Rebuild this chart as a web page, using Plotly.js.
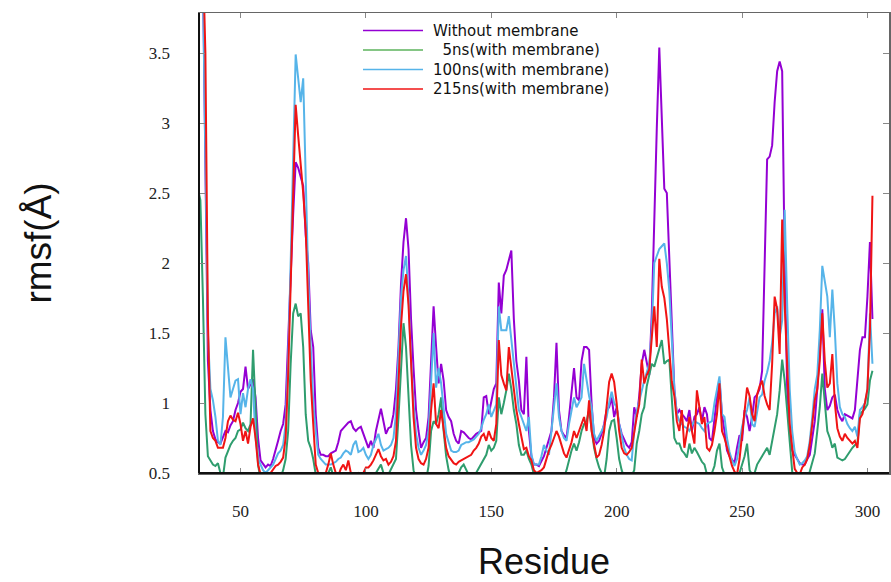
<!DOCTYPE html>
<html>
<head>
<meta charset="utf-8">
<script src="https://cdn.plot.ly/plotly-3.0.1.min.js"></script>
<style>
  html, body { margin: 0; padding: 0; background: #ffffff; }
  #chart { width: 891px; height: 582px; }
</style>
</head>
<body>
<div id="chart"></div>
<script>
// ---------------- data (rmsf in Å, one value per residue) ----------------
const firstResidue = 33;

const seriesNames = [
  'Without membrane',
  '\u20075ns(with membrane)',
  '100ns(with membrane)',
  '215ns(with membrane)'
];

const withoutMembrane = [
  4.3, 4.3, 4.1, 2.6, 1.3, 0.95, 0.8, 0.74, 0.72, 0.71,
  0.76, 0.8, 0.79, 0.84, 0.87, 0.95, 1.0, 1.08, 1.1, 1.26,
  1.1, 1.14, 1.17, 1.04, 0.75, 0.59, 0.56, 0.54, 0.56, 0.55,
  0.6, 0.66, 0.73, 0.8, 0.85, 0.99, 1.4, 1.9, 2.35, 2.72,
  2.68, 2.62, 2.55, 2.2, 2.0, 1.52, 1.4, 0.92, 0.68, 0.63,
  0.63, 0.62, 0.62, 0.64, 0.65, 0.66, 0.72, 0.8, 0.82, 0.84,
  0.86, 0.87, 0.82, 0.8, 0.82, 0.83, 0.78, 0.73, 0.68, 0.73,
  0.68, 0.8, 0.87, 0.96, 0.87, 0.78, 0.82, 0.83, 0.92, 1.1,
  1.4, 1.85, 2.15, 2.32, 2.1, 1.6, 1.25, 0.95, 0.8, 0.68,
  0.72, 0.75, 0.9, 1.35, 1.69, 1.4, 1.14, 1.28, 1.16, 0.95,
  0.9, 0.87, 0.78, 0.73, 0.71, 0.8, 0.79, 0.77, 0.75, 0.74,
  0.76, 0.78, 0.79, 0.8, 1.04, 1.05, 0.92, 1.0, 1.1, 1.14,
  1.86, 1.64, 1.91, 1.95, 2.02, 2.09, 1.6, 1.3, 1.16, 0.95,
  0.92, 1.33, 0.8, 0.62, 0.56, 0.56, 0.55, 0.58, 0.62, 0.68,
  0.75, 0.8, 1.04, 1.43, 0.95, 0.8, 0.77, 0.75, 0.9, 1.1,
  1.25, 1.04, 1.02, 1.3, 1.4, 1.4, 1.38, 1.0, 0.75, 0.71,
  0.73, 0.78, 0.85, 0.95, 0.97, 1.04, 0.9, 0.97, 0.85, 0.78,
  0.74, 0.7, 0.68, 0.72, 0.97, 0.9, 1.05, 1.28, 1.38, 1.3,
  1.2, 1.64, 2.36, 2.96, 3.54, 3.08, 2.53, 2.5, 2.0, 1.64,
  1.1, 0.92, 0.95, 0.92, 0.9, 0.87, 0.95, 0.8, 0.9, 0.92,
  0.97, 0.87, 0.97, 0.92, 0.75, 0.73, 0.9, 1.04, 1.16, 0.92,
  0.8, 0.66, 0.62, 0.59, 0.57, 0.68, 0.77, 0.73, 0.95, 0.9,
  0.8, 0.9, 1.04, 1.06, 1.1, 1.23, 2.0, 2.74, 2.76, 2.84,
  3.15, 3.37, 3.44, 3.37, 2.0, 1.1, 0.8, 0.66, 0.63, 0.6,
  0.57, 0.56, 0.56, 0.6, 0.63, 0.75, 0.87, 1.1, 1.4, 1.67,
  1.1, 0.95, 0.98, 1.04, 1.06, 0.95, 0.9, 0.87, 0.92, 0.91,
  0.9, 0.89, 0.95, 1.2, 1.38, 1.47, 1.47, 1.76, 2.15, 1.6
];

const with5ns = [
  2.53, 2.45, 1.76, 0.92, 0.62, 0.59, 0.56, 0.55, 0.57, 0.5,
  0.47, 0.61, 0.66, 0.7, 0.73, 0.75, 0.8, 0.81, 0.86, 0.82,
  0.8, 0.85, 1.38, 0.9, 0.56, 0.45, 0.42, 0.4, 0.4, 0.41,
  0.4, 0.42, 0.44, 0.47, 0.52, 0.6, 0.8, 1.28, 1.64, 1.71,
  1.62, 1.64, 1.4, 0.92, 0.73, 0.68, 0.6, 0.49, 0.44, 0.42,
  0.43, 0.46, 0.5, 0.54, 0.48, 0.44, 0.42, 0.45, 0.5, 0.47,
  0.44, 0.42, 0.41, 0.43, 0.45, 0.42, 0.4, 0.41, 0.42, 0.44,
  0.47, 0.5, 0.52, 0.56, 0.5, 0.47, 0.49, 0.53, 0.56, 0.6,
  0.9, 1.28, 1.57, 1.4, 1.0, 0.7, 0.52, 0.45, 0.42, 0.41,
  0.42, 0.45, 0.55, 0.8, 0.87, 0.85, 0.92, 1.04, 0.8, 0.62,
  0.52, 0.47, 0.45, 0.46, 0.5, 0.54, 0.56, 0.52, 0.48, 0.45,
  0.47, 0.5, 0.53, 0.56, 0.6, 0.63, 0.7, 0.66, 0.68, 0.73,
  1.04, 0.92, 1.0, 1.09, 1.21, 1.1, 0.95, 0.85, 0.7, 0.63,
  0.63, 0.66, 0.6, 0.56, 0.49, 0.45, 0.43, 0.42, 0.41, 0.42,
  0.43, 0.42, 0.44, 0.43, 0.42, 0.44, 0.47, 0.52, 0.6, 0.66,
  0.71, 0.66, 0.72, 0.8, 0.85, 0.87, 0.95, 0.8, 0.68, 0.6,
  0.54, 0.5, 0.47, 0.6, 0.8, 0.87, 0.88, 0.75, 0.6, 0.52,
  0.47, 0.44, 0.45, 0.48, 0.52, 0.71, 0.8, 0.92, 0.97, 1.12,
  1.2, 1.28, 1.26, 1.33, 1.38, 1.45, 1.28, 1.3, 1.31, 1.04,
  0.75, 0.71, 0.71, 0.66, 0.64, 0.61, 0.71, 0.64, 0.68, 0.65,
  0.61, 0.58, 0.56, 0.49, 0.47, 0.5, 0.55, 0.66, 0.71, 0.54,
  0.49, 0.45, 0.43, 0.42, 0.43, 0.45, 0.5, 0.56, 0.62, 0.71,
  0.52, 0.49, 0.5, 0.56, 0.59, 0.61, 0.65, 0.68, 0.63, 0.73,
  0.8, 0.92, 1.09, 1.31, 1.16, 0.92, 0.68, 0.51, 0.45, 0.42,
  0.41, 0.4, 0.41, 0.44, 0.51, 0.57, 0.64, 0.8, 0.97, 1.21,
  0.99, 0.8, 0.75, 0.68, 0.71, 0.61, 0.6, 0.59, 0.6, 0.63,
  0.66, 0.68, 0.7, 0.71, 0.92, 0.94, 0.96, 0.99, 1.16, 1.23
];

const with100ns = [
  4.3, 4.3, 4.0, 2.6, 1.5, 1.1, 1.02, 0.9, 0.73, 0.7,
  0.9, 1.47, 1.28, 1.04, 1.1, 1.16, 1.17, 0.92, 1.07, 0.97,
  1.1, 1.17, 1.1, 0.75, 0.6, 0.56, 0.52, 0.5, 0.52, 0.54,
  0.56, 0.6, 0.64, 0.66, 0.7, 0.85, 1.3, 2.0, 2.72, 3.49,
  3.32, 3.15, 3.32, 2.6, 1.9, 1.4, 1.0, 0.8, 0.63, 0.6,
  0.58, 0.56, 0.56, 0.56, 0.57, 0.58, 0.6, 0.61, 0.64, 0.66,
  0.65, 0.63, 0.7, 0.73, 0.65, 0.66, 0.68, 0.63, 0.6, 0.63,
  0.7, 0.74, 0.78, 0.7, 0.66, 0.67, 0.68, 0.7, 0.75, 0.92,
  1.4, 1.75, 1.95, 2.05, 1.75, 1.3, 1.0, 0.78, 0.68, 0.63,
  0.66, 0.7, 0.8, 1.2, 1.5, 1.11, 1.25, 1.14, 0.95, 0.78,
  0.72, 0.66, 0.65, 0.65, 0.66, 0.7, 0.71, 0.72, 0.72, 0.73,
  0.74, 0.76, 0.78, 0.82, 0.88, 0.92, 0.99, 0.9, 0.94, 0.99,
  1.69, 1.52, 1.52, 1.52, 1.62, 1.45, 1.3, 1.1, 0.95, 0.9,
  0.85, 0.8, 0.9, 0.63, 0.56, 0.56, 0.56, 0.62, 0.7, 0.66,
  0.63, 0.8, 0.99, 1.14, 0.9, 0.8, 0.75, 0.73, 0.85, 0.95,
  1.04, 0.97, 1.0, 1.04, 1.28, 1.16, 1.05, 0.97, 0.78, 0.73,
  0.76, 0.8, 0.84, 0.9, 1.0, 1.08, 1.0, 0.97, 0.85, 0.76,
  0.68, 0.63, 0.6, 0.59, 0.8, 0.94, 1.02, 1.1, 1.16, 1.22,
  1.28, 1.52, 2.0, 2.05, 2.1, 2.12, 2.14, 2.0, 1.8, 1.45,
  1.1, 0.92, 0.87, 0.85, 0.83, 0.82, 0.8, 0.84, 0.87, 0.86,
  0.85, 0.82, 0.8, 0.85, 0.86, 0.87, 1.0, 1.1, 1.19, 0.92,
  0.9, 0.75, 0.65, 0.59, 0.55, 0.6, 0.72, 0.83, 0.9, 0.95,
  1.04, 0.85, 0.83, 0.95, 1.04, 1.06, 1.16, 1.22, 1.3, 1.43,
  1.64, 1.69, 1.47, 1.59, 2.38, 1.7, 1.1, 0.8, 0.65, 0.6,
  0.56, 0.57, 0.59, 0.62, 0.73, 0.9, 1.1, 1.2, 1.52, 1.98,
  1.86, 1.76, 1.47, 1.81, 1.52, 1.14, 0.97, 0.92, 0.9, 0.85,
  0.82, 0.8, 0.83, 0.76, 0.95, 0.97, 1.0, 1.09, 1.64, 1.28
];

const with215ns = [
  4.3, 4.3, 4.2, 3.5, 1.6, 0.8, 0.75, 0.73, 0.68, 0.68,
  0.68, 0.75, 0.87, 0.91, 0.88, 0.87, 0.93, 0.85, 0.73, 0.8,
  0.71, 0.83, 0.89, 0.75, 0.56, 0.49, 0.46, 0.45, 0.46, 0.5,
  0.53, 0.55, 0.56, 0.58, 0.61, 0.75, 1.2, 1.8, 2.4, 3.13,
  2.91, 2.72, 2.5, 2.24, 1.64, 1.16, 0.85, 0.56, 0.5, 0.48,
  0.47, 0.5, 0.56, 0.64, 0.56, 0.5, 0.48, 0.53, 0.56, 0.52,
  0.59, 0.5, 0.47, 0.48, 0.5, 0.49, 0.5, 0.54, 0.54, 0.56,
  0.59, 0.63, 0.67, 0.62, 0.59, 0.6, 0.56, 0.58, 0.62, 0.73,
  1.1, 1.55, 1.8, 1.92, 1.7, 1.28, 0.9, 0.68, 0.6, 0.57,
  0.56, 0.6, 0.68, 0.95, 1.14, 0.85, 0.82, 0.95, 0.8, 0.68,
  0.62, 0.59, 0.57, 0.56, 0.58, 0.59, 0.6, 0.61, 0.62, 0.63,
  0.66, 0.68, 0.71, 0.76, 0.78, 0.73, 0.8, 0.75, 0.73, 0.85,
  1.45, 1.2, 1.14, 1.09, 1.4, 1.25, 1.1, 0.95, 0.85, 0.75,
  0.67, 0.68, 0.62, 0.59, 0.52, 0.5, 0.51, 0.52, 0.54, 0.6,
  0.66, 0.7, 0.75, 0.8, 0.76, 0.7, 0.64, 0.61, 0.66, 0.72,
  0.8, 0.75, 0.8, 0.85, 0.9, 0.8, 1.02, 0.8, 0.7, 0.61,
  0.63, 0.7, 0.8, 1.0, 1.15, 1.21, 1.15, 1.0, 0.8, 0.68,
  0.64, 0.63, 0.65, 0.68, 0.8, 0.9, 0.99, 1.31, 1.14, 1.2,
  1.24, 1.5, 1.69, 1.4, 2.03, 1.83, 1.75, 1.6, 1.4, 1.15,
  1.05, 0.87, 0.8, 0.95, 0.68, 0.8, 0.9, 0.8, 0.71, 1.09,
  0.97, 0.85, 0.9, 0.68, 0.66, 0.7, 0.8, 0.92, 1.14, 0.8,
  0.75, 0.68, 0.6, 0.55, 0.51, 0.49, 0.6, 0.78, 0.95, 1.11,
  1.05, 0.92, 0.87, 1.06, 1.12, 1.16, 1.05, 0.99, 0.95, 1.28,
  1.76, 1.67, 1.35, 2.31, 1.7, 1.2, 0.85, 0.68, 0.53, 0.5,
  0.49, 0.54, 0.56, 0.6, 0.7, 0.85, 1.02, 1.1, 1.3, 1.64,
  1.3, 1.11, 1.14, 1.35, 1.0, 0.82, 0.76, 0.73, 0.78, 0.75,
  0.73, 0.71, 0.73, 0.68, 0.89, 0.92, 1.0, 1.1, 1.52, 2.48
];

const xTickValues = [50, 100, 150, 200, 250, 300];
const yTickValues = [0.5, 1, 1.5, 2, 2.5, 3, 3.5];
const yTickLabels = ['0.5', '1', '1.5', '2', '2.5', '3', '3.5'];

// ---------------- styling ----------------
const lineColors   = ['#9400d3', '#2f9d6e', '#56b4e9', '#f01414'];
const legendColors = ['#9400d3', '#5cb35c', '#56b4e9', '#f01414'];
const seriesValues = [withoutMembrane, with5ns, with100ns, with215ns];
const residues = withoutMembrane.map((_, i) => firstResidue + i);

const traces = seriesValues.map((vals, k) => ({
  type: 'scatter',
  mode: 'lines',
  name: seriesNames[k],
  x: residues,
  y: vals,
  line: { color: lineColors[k], width: 2 },
  hoverinfo: 'x+y+name'
}));

// plot-area geometry in pixels (used only to place the hand-made legend)
const PL = 199, PT = 13, PW = 690, PH = 460;
const px2x = p => (p - PL) / PW;
const px2y = p => 1 - (p - PT) / PH;
const legendRowsPx = [30.5, 50, 69.5, 89];

const shapes = [
  // darker bottom and left frame lines
  { type: 'line', xref: 'paper', yref: 'paper', x0: 0, x1: 1, y0: 0, y1: 0, line: { color: '#111', width: 2 } },
  { type: 'line', xref: 'paper', yref: 'paper', x0: 0, x1: 0, y0: 0, y1: 1, line: { color: '#111', width: 2 } }
];
const annotations = [];
seriesNames.forEach((nm, k) => {
  const yy = px2y(legendRowsPx[k]);
  shapes.push({ type: 'line', xref: 'paper', yref: 'paper',
    x0: px2x(363), x1: px2x(423), y0: yy, y1: yy,
    line: { color: legendColors[k], width: 1.3 } });
  annotations.push({ xref: 'paper', yref: 'paper', x: px2x(431), y: yy,
    xanchor: 'left', yanchor: 'middle', showarrow: false, text: nm,
    font: { family: 'DejaVu Sans', size: 15, color: '#111' } });
});

const layout = {
  width: 891, height: 582,
  margin: { l: PL, r: 891 - PL - PW, t: PT, b: 582 - PT - PH },
  paper_bgcolor: '#ffffff', plot_bgcolor: '#ffffff',
  showlegend: false,
  xaxis: {
    range: [33.45, 308.6],
    tickvals: xTickValues, ticktext: xTickValues.map(String),
    ticks: 'inside', ticklen: 5, tickwidth: 1, tickcolor: '#888',
    showline: true, linecolor: '#666', linewidth: 1.5, mirror: 'ticks',
    showgrid: false, zeroline: false,
    tickfont: { family: 'Liberation Serif', size: 17, color: '#222' },
    ticklabelstandoff: 22,
    title: { text: 'Residue', font: { family: 'Liberation Sans', size: 36, color: '#111' }, standoff: 37 }
  },
  yaxis: {
    range: [0.5, 3.786],
    tickvals: yTickValues, ticktext: yTickLabels,
    ticks: 'inside', ticklen: 6, tickwidth: 1, tickcolor: '#888',
    showline: true, linecolor: '#666', linewidth: 1.5, mirror: 'ticks',
    showgrid: false, zeroline: false,
    tickfont: { family: 'Liberation Serif', size: 17, color: '#222' },
    ticklabelstandoff: 24,
    title: { text: 'rmsf(Å)', font: { family: 'Liberation Sans', size: 37, color: '#111' }, standoff: 86 }
  },
  shapes: shapes,
  annotations: annotations
};

Plotly.newPlot('chart', traces, layout, { displayModeBar: false, staticPlot: true });
</script>
</body>
</html>
